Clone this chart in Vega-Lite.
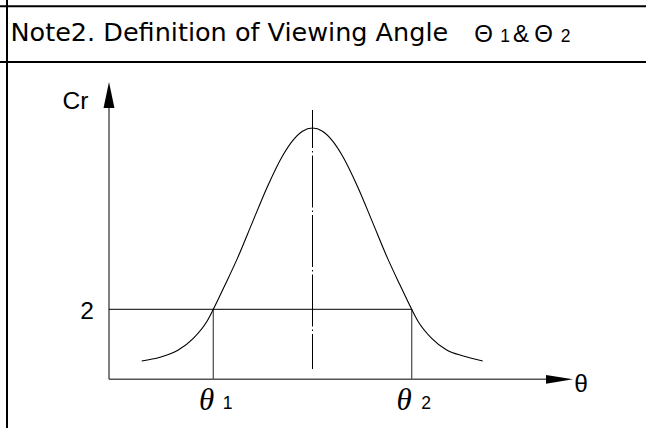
{
  "$schema": "https://vega.github.io/schema/vega-lite/v6.json",
  "width": 646,
  "height": 428,
  "autosize": {"type": "none"},
  "padding": 0,
  "background": "white",
  "config": {"view": {"stroke": null}},
  "datasets": {
    "frame": [
      {"x": -156.25, "x2": 166.75, "y": 10.657, "y2": 10.657},
      {"x": -156.25, "x2": 166.75, "y": 9.066, "y2": 9.066},
      {"x": -152.75, "x2": -152.75, "y": 10.837, "y2": -1.391}
    ],
    "axes": [
      {"x": -101.75, "x2": -101.75, "y": 0, "y2": 7.9},
      {"x": -101.75, "x2": 118, "y": 0, "y2": 0}
    ],
    "guides": [
      {"x": -49.6, "x2": -49.6, "y": 0, "y2": 2},
      {"x": 49.6, "x2": 49.6, "y": 0, "y2": 2}
    ],
    "level": [
      {"x": -101.75, "x2": 49.6, "y": 2, "y2": 2}
    ],
    "center": [
      {"x": 0, "x2": 0, "y": 7.694, "y2": 0.294}
    ],
    "curve": [
      {"x": -85.4, "y": 0.523},
      {"x": -76.25, "y": 0.629},
      {"x": -67.1, "y": 0.837},
      {"x": -59.6, "y": 1.171},
      {"x": -52.9, "y": 1.646},
      {"x": -49.6, "y": 2.0},
      {"x": -43.75, "y": 2.694},
      {"x": -37.5, "y": 3.463},
      {"x": -30, "y": 4.491},
      {"x": -22.5, "y": 5.509},
      {"x": -15, "y": 6.38},
      {"x": -10, "y": 6.811},
      {"x": -5, "y": 7.086},
      {"x": 0, "y": 7.18},
      {"x": 5, "y": 7.086},
      {"x": 10, "y": 6.811},
      {"x": 15, "y": 6.38},
      {"x": 22.5, "y": 5.509},
      {"x": 30, "y": 4.491},
      {"x": 37.5, "y": 3.463},
      {"x": 43.75, "y": 2.694},
      {"x": 49.6, "y": 2.0},
      {"x": 52.9, "y": 1.646},
      {"x": 59.6, "y": 1.171},
      {"x": 67.1, "y": 0.837},
      {"x": 75.4, "y": 0.666},
      {"x": 85.1, "y": 0.523}
    ],
    "yArrow": [{"x": -101.75, "y": 8.126}],
    "xArrow": [{"x": 123.5, "y": 0}],
    "header": [{"x": -151, "y": 9.666, "label": "Note2. Definition of Viewing Angle"}],
    "headerBig": [
      {"x": 85.5, "y": 9.63, "label": "Θ"},
      {"x": 104.25, "y": 9.63, "label": "&"},
      {"x": 115.5, "y": 9.63, "label": "Θ"}
    ],
    "subs": [
      {"x": 96.25, "y": 9.63, "label": "1"},
      {"x": 126.5, "y": 9.63, "label": "2"},
      {"x": -42.5, "y": -0.849, "label": "1"},
      {"x": 56.75, "y": -0.849, "label": "2"}
    ],
    "labels": [
      {"x": -118.5, "y": 7.72, "label": "Cr"},
      {"x": -112.75, "y": 1.723, "label": "2"},
      {"x": 134.25, "y": -0.349, "label": "θ"}
    ],
    "thetaItalic": [
      {"x": -53, "y": -0.863, "label": "θ"},
      {"x": 45.75, "y": -0.863, "label": "θ"}
    ]
  },
  "encoding": {
    "x": {"field": "x", "type": "quantitative", "scale": {"domain": [-156.25, 166.75], "nice": false, "zero": false}, "axis": null},
    "y": {"field": "y", "type": "quantitative", "scale": {"domain": [-1.391, 10.837], "nice": false, "zero": false}, "axis": null}
  },
  "layer": [
    {
      "data": {"name": "frame"},
      "mark": {"type": "rule", "color": "black", "strokeWidth": 2},
      "encoding": {"x2": {"field": "x2"}, "y2": {"field": "y2"}}
    },
    {
      "data": {"name": "axes"},
      "mark": {"type": "rule", "color": "#555555", "strokeWidth": 1.5},
      "encoding": {"x2": {"field": "x2"}, "y2": {"field": "y2"}}
    },
    {
      "data": {"name": "guides"},
      "mark": {"type": "rule", "color": "#555555", "strokeWidth": 1.3},
      "encoding": {"x2": {"field": "x2"}, "y2": {"field": "y2"}}
    },
    {
      "data": {"name": "level"},
      "mark": {"type": "rule", "color": "black", "strokeWidth": 1},
      "encoding": {"x2": {"field": "x2"}, "y2": {"field": "y2"}}
    },
    {
      "data": {"name": "center"},
      "mark": {"type": "rule", "color": "black", "strokeWidth": 1, "strokeDash": [52, 3, 1.5, 3], "strokeDashOffset": 14},
      "encoding": {"x2": {"field": "x2"}, "y2": {"field": "y2"}}
    },
    {
      "data": {"name": "curve"},
      "mark": {"type": "line", "interpolate": "monotone", "color": "black", "strokeWidth": 1.1},
      "encoding": {}
    },
    {
      "data": {"name": "yArrow"},
      "mark": {"type": "point", "shape": "M0,-1L0.42,1L-0.42,1Z", "size": 676, "filled": true, "color": "black", "opacity": 1, "strokeWidth": 0}
    },
    {
      "data": {"name": "xArrow"},
      "mark": {"type": "point", "shape": "M1,0L-1,-0.32L-1,0.32Z", "size": 729, "filled": true, "color": "black", "opacity": 1, "strokeWidth": 0}
    },
    {
      "data": {"name": "header"},
      "mark": {"type": "text", "font": "DejaVu Sans", "fontSize": 25.5, "align": "left", "baseline": "alphabetic", "color": "black"},
      "encoding": {"text": {"field": "label"}}
    },
    {
      "data": {"name": "headerBig"},
      "mark": {"type": "text", "font": "Liberation Sans", "fontSize": 24, "align": "center", "baseline": "alphabetic", "color": "black"},
      "encoding": {"text": {"field": "label"}}
    },
    {
      "data": {"name": "subs"},
      "mark": {"type": "text", "font": "Liberation Sans", "fontSize": 17.5, "align": "center", "baseline": "alphabetic", "color": "black"},
      "encoding": {"text": {"field": "label"}}
    },
    {
      "data": {"name": "labels"},
      "mark": {"type": "text", "font": "Liberation Sans", "fontSize": 24.5, "align": "center", "baseline": "alphabetic", "color": "black"},
      "encoding": {"text": {"field": "label"}}
    },
    {
      "data": {"name": "thetaItalic"},
      "mark": {"type": "text", "font": "Liberation Serif", "fontStyle": "italic", "fontSize": 31, "align": "center", "baseline": "alphabetic", "color": "black"},
      "encoding": {"text": {"field": "label"}}
    }
  ]
}
